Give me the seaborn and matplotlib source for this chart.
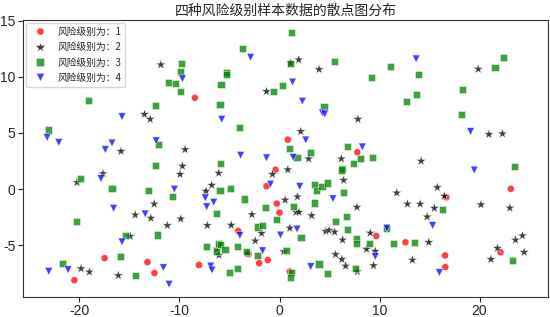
import pandas as pd
import numpy as np
import matplotlib
matplotlib.use("Agg")
import matplotlib.pyplot as plt
import seaborn as sns

# values
x1 = [-8.47, 0.83, 7.78, -17.49, -13.20, -12.50, -20.51, -0.40, -1.30, -0.27, 0.00, -4.13,
      -3.09, -1.17, -2.03, -8.05, 1.03, 9.67, 12.59, 16.68, 23.13, 22.09, 16.55, 16.58]
y1 = [8.13, 4.40, 3.28, -6.14, -6.49, -7.46, -8.10, 1.73, 0.26, -1.29, -2.09, -3.72,
      -5.78, -6.31, -6.58, -6.75, -7.33, -4.16, -4.73, -0.73, 0.03, -5.61, -5.90, -6.93]

x2 = [-11.86, -13.50, -12.93, -15.85, -9.44, -1.30, 1.10, 1.92, 3.95, 7.84, 2.12, 6.18, 2.92,
      19.87, 20.94, 22.29, -17.65, -20.24, -12.53, -14.43, -12.86, -14.93, -19.84, -19.01,
      -16.12, -9.71, -9.94, -6.08, -0.70, 0.83, -6.78, -7.35, 0.56, -2.76, -9.87, -11.21,
      -7.22, -4.83, 1.03, -1.79, -2.43, -6.28, -6.05, -3.23, 0.43, 14.16, 6.41, 11.72, 1.79,
      12.79, 14.06, 7.74, 1.66, 1.95, 3.22, 4.62, 4.95, 5.51, 9.07, 6.31, 8.70, 9.57, 5.61,
      6.24, 13.29, 6.61, 9.40, 7.78, 15.78, 16.48, 20.14, 23.03, 15.48, 14.76, 14.92, 24.29,
      23.59, 21.79, 24.46, 21.14]
y2 = [11.07, 6.66, 6.22, 3.37, 3.52, 8.69, 11.21, 11.51, 10.65, 6.22, 5.13, 2.70, 2.70,
      10.68, 4.87, 4.93, 1.38, 0.59, -1.32, -2.29, -2.58, -4.20, -7.07, -7.37,
      -7.68, 2.05, 1.32, 1.43, 1.32, 1.73, 0.35, -0.18, -0.97, -2.26, -2.64, -3.23,
      -3.23, -3.20, -3.46, -3.93, -4.60, -5.34, -5.87, -5.72, -5.55, 2.49, 0.79, -0.33, -0.68,
      -1.32, -1.32, -1.61, -2.05, -2.05, -2.35, -3.76, -3.67, -3.81, -3.90, -4.52, -5.34, -5.52, -5.81,
      -6.25, -6.31, -6.84, -6.80, -7.33, 0.15, -0.62, -1.38, -1.67, -1.70, -2.46, -4.73, -4.14,
      -4.52, -5.26, -5.61, -6.25]

x3 = [-18.09, -19.08, -12.36, -23.13, -12.06, 1.20, -3.69, -9.77, -9.94, -5.28, -5.28, 1.10,
      -11.11, -10.37, -5.85, -0.64, 0.30, -9.87, -5.95, -3.96, 1.00, 5.51, 11.13, 9.23, 13.89,
      13.66, 12.72, 4.45, 6.81, 3.09, 9.33, 8.08, 1.75, 22.36, 21.54, 18.25, 18.15, -12.36,
      -19.91, -16.75, -13.10, -20.34, -15.42, -12.20, -15.92, -21.73, -14.36, -5.92, -5.95,
      -4.89, -10.67, -3.46, 1.43, -1.44, -6.28, -0.34, -2.19, -1.66, -7.28, -6.12, -5.88,
      -6.28, -5.45, -4.16, -3.33, -2.19, 0.70, -4.16, -4.96, 1.20, 1.10, 7.44, 6.34, 6.18,
      3.52, 3.69, 4.25, 4.82, 6.44, 3.52, 6.68, 5.61, 2.15, 6.81, 10.73, 7.71, 7.68, 8.97,
      11.40, 13.49, 3.95, 7.58, 4.82, 23.46, 16.28, 23.26]
y3 = [11.07, 7.92, 7.48, 5.26, 3.96, 13.93, 12.50, 11.18, 10.48, 10.41, 10.18, 11.21,
      9.51, 9.39, 9.27, 8.71, 9.22, 8.65, 7.51, 5.48, 3.58, 11.38, 10.94, 9.92, 10.18,
      8.45, 7.83, 7.37, 3.76, 3.23, 2.84, 2.73, 2.79, 11.73, 10.83, 8.86, 6.63, 2.14,
      0.94, 0.06, -0.09, -2.90, -4.14, -4.08, -5.96, -6.60, -7.66, 2.32, -0.09,
      0.09, -0.68, -0.88, -1.56, -1.65, -2.20, -2.67, -3.37, -3.20, -5.13, -4.84, -4.90,
      -5.57, -5.34, -5.13, -5.55, -5.90, -5.46, -7.10, -7.39, -7.39, -7.86, 2.32, 1.85, 1.70,
      0.38, -0.15, 0.20, 0.55, -0.26, -1.23, -2.46, -2.84, -4.34, -3.58, -3.52, -4.40, -4.84, -4.87,
      -4.87, -4.78, -6.66, -7.04, -7.54, 2.05, -1.82, -6.31]

x4 = [-21.08, -15.75, -23.23, -22.07, -16.75, -17.42, -12.33, -2.89, -9.71, 1.30, -5.78,
      -3.89, -1.30, 1.36, 13.66, 2.29, 4.29, 4.52, 2.62, 8.28, 19.10, -17.85, -16.59,
      -13.43, -15.75, -23.07, -21.14, -11.61, -0.90, -10.51, -7.42, -6.58, -7.28, -3.96,
      0.10, -1.69, -6.88, -6.75, -11.04, 2.02, 5.34, 1.75, 10.73, 9.57, 3.12, 19.47, 15.31, 15.98]
y4 = [9.83, 6.45, 4.60, 4.16, 4.11, 3.52, 4.31, 11.73, 9.83, 9.53, 6.22,
      3.02, 2.79, 2.84, 11.59, 7.83, 6.78, 6.69, 4.38, 3.76, 5.13, 0.94, -1.70,
      -2.20, -4.69, -7.31, -7.16, -6.98, 0.44, 0.00, -0.77, -1.17, -1.56, -4.11,
      -4.08, -5.48, -6.84, -7.19, -8.45, 0.24, -0.85, -3.55, -3.46, -5.99, -6.89, 1.70, -3.23, -7.42]

levels = ["风险级别为：1", "风险级别为：2", "风险级别为：3", "风险级别为：4"]

df = pd.concat([
    pd.DataFrame({"x": x1, "y": y1, "level": levels[0]}),
    pd.DataFrame({"x": x2, "y": y2, "level": levels[1]}),
    pd.DataFrame({"x": x3, "y": y3, "level": levels[2]}),
    pd.DataFrame({"x": x4, "y": y4, "level": levels[3]}),
], ignore_index=True)

sns.set_style("ticks")
plt.rcParams["font.family"] = ["Liberation Sans", "Noto Sans CJK SC"]
plt.rcParams["axes.unicode_minus"] = False

palette = dict(zip(levels, ["red", "black", "green", "blue"]))
markers = dict(zip(levels, ["o", "*", "s", "v"]))
sizes = dict(zip(levels, [26, 55, 26, 30]))

fig, ax = plt.subplots(figsize=(5.5, 3.17), dpi=100)
sns.scatterplot(data=df, x="x", y="y", hue="level", style="level", size="level",
                hue_order=levels, style_order=levels, size_order=levels,
                palette=palette, markers=markers, sizes=sizes, alpha=0.75, ax=ax)

ax.set_xlabel("")
ax.set_ylabel("")
ax.set_title("四种风险级别样本数据的散点图分布", fontsize=10, pad=4,
             family=["Noto Sans CJK SC", "DejaVu Sans"])
ax.tick_params(labelsize=10, pad=2)
for sp in ax.spines.values():
    sp.set_color("#333333")

ax.legend(loc="upper left", prop={"family": ["Noto Sans CJK SC", "DejaVu Sans"], "size": 7},
          borderaxespad=0.3, handletextpad=0.8, labelspacing=0.55)

plt.subplots_adjust(left=0.0424, right=0.9964, top=0.937, bottom=0.064)
plt.savefig("out.png", dpi=100)
